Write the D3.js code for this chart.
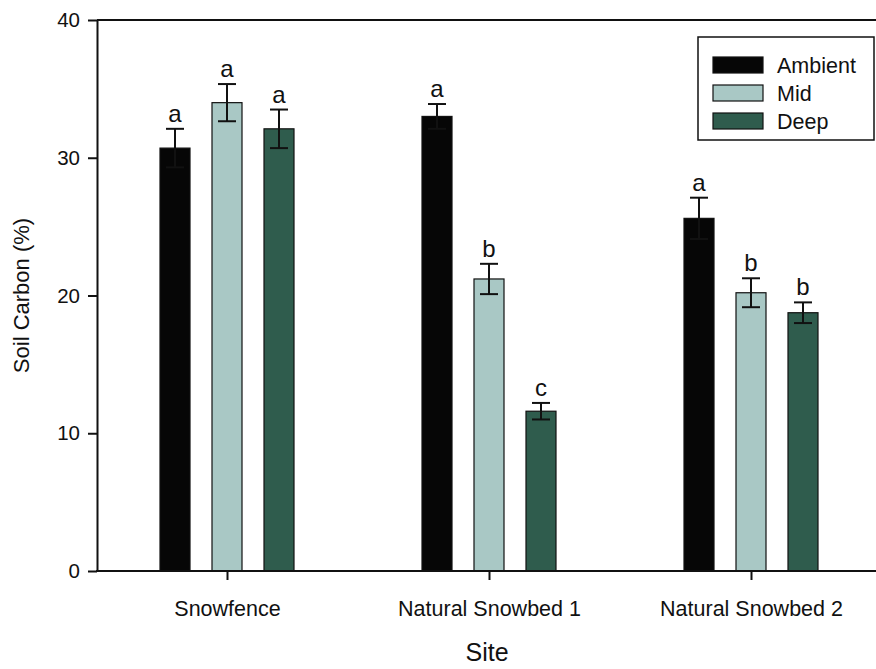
<!DOCTYPE html>
<html>
<head>
<meta charset="utf-8">
<script src="https://cdn.jsdelivr.net/npm/d3@7"></script>
<style>
  body { margin: 0; background: #fff; }
  text { font-family: Arial, "Liberation Sans", sans-serif; fill: #111; }
</style>
</head>
<body>
<svg id="chart" width="876" height="669"></svg>
<script>
// data
const sites = ["Snowfence", "Natural Snowbed 1", "Natural Snowbed 2"];
const treatments = ["Ambient", "Mid", "Deep"];
const ambient = [30.7, 33.0, 25.6];
const ambientErr = [1.4, 0.9, 1.5];
const mid = [34.0, 21.2, 20.2];
const midErr = [1.35, 1.1, 1.05];
const deep = [32.1, 11.6, 18.75];
const deepErr = [1.4, 0.6, 0.75];
const ambientLetters = ["a", "a", "a"];
const midLetters = ["a", "b", "b"];
const deepLetters = ["a", "c", "b"];
const yTicks = [0, 10, 20, 30, 40];

const colors = { Ambient: "#060606", Mid: "#a9c8c5", Deep: "#2f5c4d" };

// build rows for drawing
const series = {
  Ambient: { v: ambient, e: ambientErr, l: ambientLetters },
  Mid: { v: mid, e: midErr, l: midLetters },
  Deep: { v: deep, e: deepErr, l: deepLetters }
};
const rows = [];
sites.forEach((s, i) => {
  treatments.forEach(t => {
    rows.push({ site: s, trt: t, value: series[t].v[i], err: series[t].e[i], letter: series[t].l[i] });
  });
});

const svg = d3.select("#chart");
const plotLeft = 97, plotTop = 20, plotBottom = 571;

const y = d3.scaleLinear().domain([0, 40]).range([plotBottom, plotTop]);

const x0 = d3.scalePoint()
  .domain(sites)
  .range([96, 882])
  .padding(0.5);

const x1 = d3.scaleBand()
  .domain(treatments)
  .range([-67, 67])
  .paddingInner(0.423);

// bars
svg.append("g")
  .selectAll("rect")
  .data(rows)
  .enter()
  .append("rect")
  .attr("x", d => x0(d.site) + x1(d.trt))
  .attr("y", d => y(d.value))
  .attr("width", x1.bandwidth())
  .attr("height", d => y(0) - y(d.value))
  .attr("fill", d => colors[d.trt])
  .attr("stroke", "#111")
  .attr("stroke-width", 1.2);

// error bars
const eb = svg.append("g").attr("stroke", "#111").attr("stroke-width", 2);
rows.forEach(d => {
  const cx = x0(d.site) + x1(d.trt) + x1.bandwidth() / 2;
  eb.append("line")
    .attr("x1", cx).attr("x2", cx)
    .attr("y1", y(d.value - d.err)).attr("y2", y(d.value + d.err));
  eb.append("line")
    .attr("x1", cx - 9).attr("x2", cx + 9)
    .attr("y1", y(d.value + d.err)).attr("y2", y(d.value + d.err));
  eb.append("line")
    .attr("x1", cx - 9).attr("x2", cx + 9)
    .attr("y1", y(d.value - d.err)).attr("y2", y(d.value - d.err));
});

// letters
svg.append("g")
  .selectAll("text")
  .data(rows)
  .enter()
  .append("text")
  .attr("x", d => x0(d.site) + x1(d.trt) + x1.bandwidth() / 2)
  .attr("y", d => y(d.value + d.err) - 7)
  .attr("text-anchor", "middle")
  .attr("font-size", 24)
  .text(d => d.letter);

// axes
const yAxis = svg.append("g")
  .attr("transform", `translate(${plotLeft},0)`)
  .call(d3.axisLeft(y).tickValues(yTicks).tickSize(9).tickSizeOuter(0).tickPadding(8));
yAxis.selectAll("text").attr("font-size", 20.5);

const xAxis = svg.append("g")
  .attr("transform", `translate(0,${plotBottom})`)
  .call(d3.axisBottom(x0).tickSize(9).tickSizeOuter(0).tickPadding(21));
xAxis.selectAll("text").attr("font-size", 21.5);

svg.selectAll(".domain, .tick line").attr("stroke", "#111").attr("stroke-width", 2);
xAxis.select(".domain").attr("d", `M${plotLeft - 1},0H876`);

// top frame line
svg.append("line")
  .attr("x1", plotLeft).attr("x2", 876)
  .attr("y1", plotTop).attr("y2", plotTop)
  .attr("stroke", "#111").attr("stroke-width", 2);

// axis titles
svg.append("text")
  .attr("transform", `translate(29,${(plotTop + plotBottom) / 2}) rotate(-90)`)
  .attr("text-anchor", "middle")
  .attr("font-size", 22)
  .text("Soil Carbon (%)");

svg.append("text")
  .attr("x", 487)
  .attr("y", 661)
  .attr("text-anchor", "middle")
  .attr("font-size", 25)
  .text("Site");

// legend
const lg = svg.append("g").attr("transform", "translate(698,37)");
lg.append("rect")
  .attr("width", 176).attr("height", 103)
  .attr("fill", "#fff").attr("stroke", "#111").attr("stroke-width", 1.5);
treatments.forEach((t, i) => {
  lg.append("rect")
    .attr("x", 15).attr("y", 20 + i * 28)
    .attr("width", 50).attr("height", 16)
    .attr("fill", colors[t]).attr("stroke", "#111").attr("stroke-width", 1.2);
  lg.append("text")
    .attr("x", 79).attr("y", 36 + i * 28)
    .attr("font-size", 21.5)
    .text(t);
});
</script>
</body>
</html>
